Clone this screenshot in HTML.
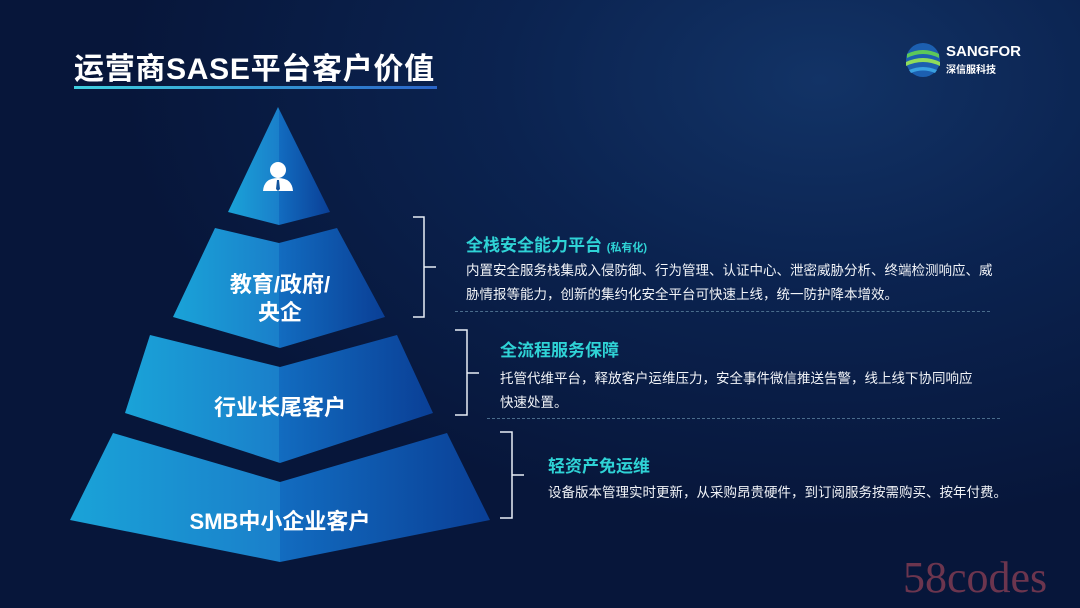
<!DOCTYPE html>
<html><head><meta charset="utf-8"><style>
*{margin:0;padding:0;box-sizing:border-box}
body{width:1080px;height:608px;overflow:hidden;position:relative;font-family:"Liberation Sans","Noto Sans CJK SC",sans-serif;
background:radial-gradient(ellipse 700px 450px at 820px 80px,#123366 0%,#0b2350 45%,#07163a 100%);color:#fff}
.abs{position:absolute}
.h{color:#2fd3d6;font-weight:bold;font-size:17px}
.b{font-size:13.5px;line-height:24px;color:#f2f4f8;white-space:nowrap}
.dash{border-top:1.5px dashed #4a6c8c;height:0}
.lbl{font-weight:bold;font-size:22px;text-align:center;color:#fff;line-height:28px}
</style></head><body>
<div class="abs" style="left:74px;top:44px;font-size:30px;font-weight:bold;letter-spacing:0.7px">运营商SASE平台客户价值</div>
<div class="abs" style="left:74px;top:86px;width:363px;height:3px;background:linear-gradient(90deg,#3fd0e0,#2a64c8)"></div>
<svg class="abs" style="left:903px;top:40px" width="40" height="40" viewBox="0 0 40 40">
<circle cx="20" cy="20" r="17" fill="#1c5fb0"/>
<path d="M4 14 Q20 6 36 14 L36 18 Q20 10 4 18Z" fill="#5cc85a"/>
<path d="M3 22 Q20 14 37 22 L37 26 Q20 18 3 26Z" fill="#8fdc5a"/>
<path d="M6 30 Q20 24 34 30 L32 33 Q20 28 8 33Z" fill="#3aa0e0"/>
</svg>
<div class="abs" style="left:946px;top:43px;font-size:15px;font-weight:bold">SANGFOR</div>
<div class="abs" style="left:946px;top:61px;font-size:10px;font-weight:bold">深信服科技</div>
<svg class="abs" style="left:0;top:0" width="1080" height="608">
<defs>
<linearGradient id="g" x1="0" x2="1" y1="0" y2="0">
<stop offset="0" stop-color="#1aa3d8"/><stop offset="0.5" stop-color="#1a7fca"/><stop offset="0.5" stop-color="#126cc0"/><stop offset="1" stop-color="#0a3f96"/></linearGradient>
</defs>
<g fill="url(#g)">
<polygon points="278,107 330,212 279,225 228,212"/>
<polygon points="215,228 279,243 337,228 385,317 280,348 173,317"/>
<polygon points="150,335 280,367 397,335 433,413 280,463 125,413"/>
<polygon points="113,433 280,482 447,433 490,520 280,562 70,520"/>
</g>
<g fill="none" stroke="#e8eef6" stroke-width="1.5">
<path d="M413 217 H424 V317 H413 M424 267 H436"/>
<path d="M455 330 H467 V415 H455 M467 373 H479"/>
<path d="M500 432 H512 V518 H500 M512 475 H524"/>
</g>
<g fill="#fff">
<circle cx="278" cy="170" r="8"/>
<path d="M263 191 Q264 178 278 178 Q292 178 293 191Z"/>
<path d="M277 180 L279 180 L280 189 L278 191 L276 189Z" fill="#12559e"/>
</g>
</svg>
<div class="abs lbl" style="left:180px;top:271px;width:200px">教育/政府/<br>央企</div>
<div class="abs lbl" style="left:180px;top:394px;width:200px">行业长尾客户</div>
<div class="abs lbl" style="left:150px;top:508px;width:260px">SMB中小企业客户</div>

<div class="abs h" style="left:466px;top:231px">全栈安全能力平台 <span style="font-size:11px">(私有化)</span></div>
<div class="abs b" style="left:466px;top:259px">内置安全服务栈集成入侵防御、行为管理、认证中心、泄密威胁分析、终端检测响应、威<br>胁情报等能力，创新的集约化安全平台可快速上线，统一防护降本增效。</div>
<div class="abs dash" style="left:455px;top:311px;width:535px"></div>

<div class="abs h" style="left:500px;top:336px">全流程服务保障</div>
<div class="abs b" style="left:500px;top:367px">托管代维平台，释放客户运维压力，安全事件微信推送告警，线上线下协同响应<br>快速处置。</div>
<div class="abs dash" style="left:487px;top:418px;width:513px"></div>

<div class="abs h" style="left:548px;top:452px">轻资产免运维</div>
<div class="abs b" style="left:548px;top:481px">设备版本管理实时更新，从采购昂贵硬件，到订阅服务按需购买、按年付费。</div>

<div class="abs" style="left:903px;top:552px;font-family:'Liberation Serif',serif;font-size:44px;color:#c05060;opacity:0.55">58codes</div>
</body></html>
